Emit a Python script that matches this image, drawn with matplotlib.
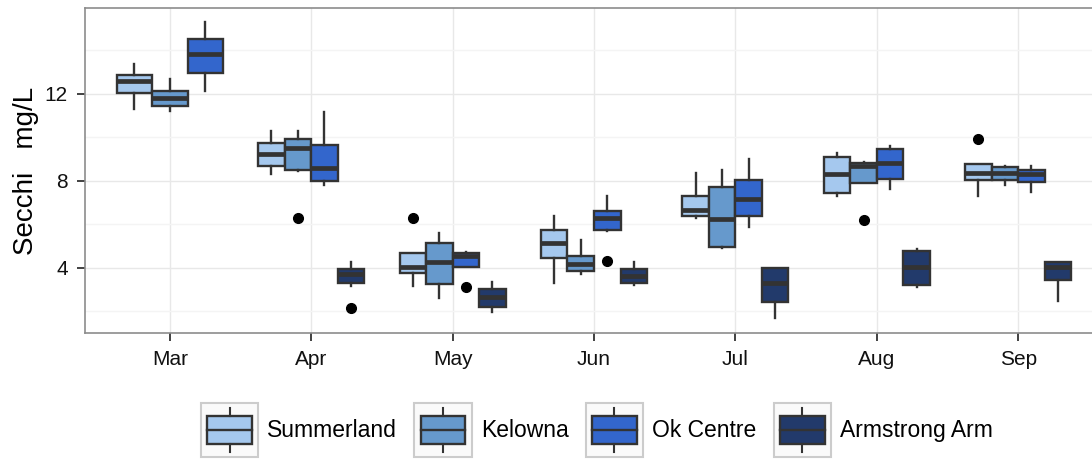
import numpy as np
import matplotlib.pyplot as plt
from matplotlib.patches import Rectangle, Patch
from matplotlib.lines import Line2D
from matplotlib.legend_handler import HandlerBase

plt.rcParams['font.family'] = ['Liberation Sans', 'DejaVu Sans']

months = ['Mar', 'Apr', 'May', 'Jun', 'Jul', 'Aug', 'Sep']
sites = ['Summerland', 'Kelowna', 'Ok Centre', 'Armstrong Arm']
colors = ['#a5c8ee', '#6699cc', '#3366cc', '#223a6b']

# [whisker low, q1, median, q3, whisker high] per month, None = no samples
summerland = [[11.31, 12.05, 12.57, 12.87, 13.39],
              [8.30, 8.68, 9.22, 9.75, 10.29],
              [3.15, 3.76, 4.05, 4.66, 4.66],
              [3.28, 4.43, 5.15, 5.73, 6.39],
              [6.30, 6.36, 6.66, 7.28, 8.35],
              [7.31, 7.43, 8.31, 9.11, 9.26],
              [7.31, 8.04, 8.38, 8.79, 8.79]]
kelowna = [[11.19, 11.46, 11.79, 12.12, 12.69],
           [8.45, 8.51, 9.49, 9.91, 10.29],
           [2.61, 3.25, 4.25, 5.13, 5.58],
           [3.70, 3.83, 4.17, 4.55, 5.29],
           [4.89, 4.94, 6.24, 7.73, 8.48],
           [7.92, 7.92, 8.68, 8.80, 8.87],
           [7.81, 8.04, 8.38, 8.64, 8.68]]
ok_centre = [[12.11, 12.98, 13.82, 14.54, 15.29],
             [7.80, 7.99, 8.61, 9.63, 11.17],
             [4.05, 4.05, 4.52, 4.66, 4.74],
             [5.70, 5.72, 6.28, 6.63, 7.28],
             [5.88, 6.39, 7.15, 8.02, 8.99],
             [7.61, 8.10, 8.83, 9.45, 9.60],
             [7.49, 7.95, 8.30, 8.50, 8.68]]
armstrong = [None,
             [3.15, 3.30, 3.70, 3.94, 4.28],
             [1.95, 2.18, 2.67, 3.02, 3.36],
             [3.21, 3.28, 3.64, 3.94, 4.28],
             [1.68, 2.41, 3.31, 3.97, 3.97],
             [3.10, 3.22, 4.02, 4.75, 4.86],
             [2.49, 3.44, 4.02, 4.25, 4.25]]

summerland_out = [[], [], [6.30], [], [], [], [9.91]]
kelowna_out = [[], [6.30], [], [], [], [6.19], []]
ok_centre_out = [[], [], [3.10], [4.29], [], [], []]
armstrong_out = [[], [2.14], [], [], [], [], []]

site_stats = [summerland, kelowna, ok_centre, armstrong]
site_out = [summerland_out, kelowna_out, ok_centre_out, armstrong_out]

edge = '#333333'

fig = plt.figure(figsize=(10.92, 4.59), dpi=100)
ax = fig.add_axes([85 / 1092, 1 - 333 / 459, (1103 - 85) / 1092, (333 - 8) / 459])

dodge = 0.75
for m in range(len(months)):
    present = [s for s in range(len(sites)) if site_stats[s][m] is not None]
    n = len(present)
    w = dodge / n
    for k, s in enumerate(present):
        lo, q1, med, q3, hi = site_stats[s][m]
        pos = m + 1 - dodge / 2 + w * (k + 0.5)
        st = dict(whislo=lo, q1=q1, med=med, q3=q3, whishi=hi, fliers=site_out[s][m])
        ax.bxp([st], positions=[pos], widths=w, patch_artist=True, showcaps=False,
               boxprops=dict(facecolor=colors[s], edgecolor=edge, lw=1.7),
               medianprops=dict(color=edge, lw=3.4, solid_capstyle='butt'),
               whiskerprops=dict(color=edge, lw=1.7),
               flierprops=dict(marker='o', markerfacecolor='black', markeredgecolor='black',
                               markersize=7),
               zorder=3)

ax.set_xlim(0.4, 7.6)
ax.set_ylim(1.0, 15.95)
ax.set_xticks(range(1, 8))
ax.set_xticklabels(months)
ax.set_yticks([4, 8, 12])
ax.set_yticks([2, 6, 10, 14], minor=True)
ax.grid(True, which='major', color='#e8e8e8', lw=1.0, zorder=0)
ax.grid(True, which='minor', axis='y', color='#f4f4f4', lw=1.0, zorder=0)
ax.set_axisbelow(True)
ax.tick_params(which='major', length=6, width=1.3, color=edge, labelsize=15,
               labelcolor='#111111', pad=6.5)
ax.tick_params(which='minor', length=0)
for sp in ax.spines.values():
    sp.set_color('#8c8c8c')
    sp.set_linewidth(1.2)
ax.set_ylabel('Secchi   mg/L', fontsize=20, labelpad=4)


class BoxKey(HandlerBase):
    def create_artists(self, legend, orig_handle, xdescent, ydescent, width, height,
                       fontsize, trans):
        x0, y0 = -xdescent, -ydescent
        frame = Rectangle((x0, y0), width, height, facecolor='#fafafa',
                          edgecolor='#cccccc', lw=1.5, transform=trans)
        bx = Rectangle((x0 + width * 0.11, y0 + height * 0.25), width * 0.78, height * 0.51,
                       facecolor=orig_handle.get_facecolor(), edgecolor=edge, lw=1.7,
                       transform=trans)
        cx = x0 + width / 2
        top = Line2D([cx, cx], [y0 + height * 0.76, y0 + height * 0.9], color=edge, lw=1.5,
                     transform=trans)
        bot = Line2D([cx, cx], [y0 + height * 0.1, y0 + height * 0.25], color=edge, lw=1.5,
                     transform=trans)
        mid = Line2D([x0 + width * 0.11, x0 + width * 0.89], [y0 + height * 0.505] * 2,
                     color=edge, lw=1.7, transform=trans)
        return [frame, bx, top, bot, mid]


handles = [Patch(facecolor=c) for c in colors]
fig.legend(handles, sites, handler_map={Patch: BoxKey()}, loc='center',
           bbox_to_anchor=(597 / 1092, 1 - 430 / 459), ncol=4, frameon=False,
           fontsize=16.5, handlelength=2.5, handleheight=3.3, handletextpad=0.4,
           columnspacing=0.75, borderpad=0)

fig.savefig('out.png', dpi=100)
